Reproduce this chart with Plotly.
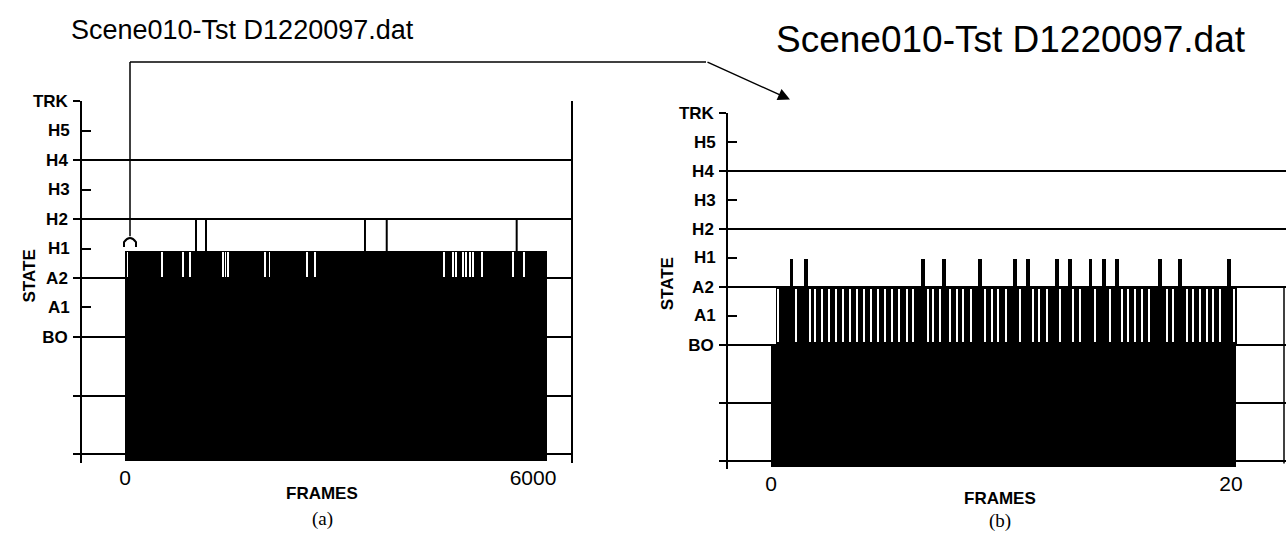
import plotly.graph_objects as go

W, H = 1286, 540


def px(x):
    return x / W


def py(y):
    return 1 - y / H


# ---------------- data ----------------
grid_states = [9, 7, 5, 3, 1, -1, -3]
grid_labels = ["TRK", "H4", "H2", "A2", "BO", "", ""]
minor_states = [8, 6, 4, 2]
minor_labels = ["H5", "H3", "H1", "A1"]

# panel (a): 0..6000 frames
a_block = [0, 6206]           # frames covered by the dense oscillation
a_block_top = 3.9
a_block_bottom = -3.25
a_gap_frames = [37, 544, 853, 956, 1441, 1478, 1515, 2059, 2125, 2676, 2794,
                4691, 4819, 4868, 4971, 5015, 5074, 5118, 5246, 5710, 5872]
a_h2_pulse_start = [1044, 3529, 5760]
a_h2_pulse_end = [1191, 3849, 5760]
a_xticks = [0, 6000]

# panel (b): first 20 frames
b_block = [0, 20.22]
b_band = [0.2, 20.25]
b_block_bottom = -3.22
b_gap_frames = [0.32, 1.09, 1.70, 1.91, 2.20, 2.52, 2.83, 3.14, 3.44, 3.75, 4.04,
                4.35, 4.67, 4.96, 5.27, 5.58, 5.90, 6.19, 6.84, 7.06, 7.35, 7.78,
                8.07, 8.36, 8.68, 9.30, 9.60, 9.88, 10.22, 10.83, 11.40, 11.67,
                11.99, 12.57, 13.14, 13.44, 14.09, 14.74, 15.25, 15.54, 15.83,
                16.12, 16.45, 17.20, 17.49, 18.07, 18.36, 18.65, 18.94, 19.23,
                19.52, 20.13]
b_spike_frames = [0.89, 1.51, 6.62, 7.54, 9.09, 10.60, 11.17, 12.42, 12.99,
                  13.89, 14.48, 15.06, 16.93, 17.80, 19.93]
b_spike_top = 3.95
b_xticks = [0, 20]

title_text = "Scene010-Tst D1220097.dat"

# ---------------- geometry ----------------
a_px0, a_px6000 = 125, 533
a_scale = (a_px6000 - a_px0) / 6000.0
a_xrange = [(82 - a_px0) / a_scale, (571 - a_px0) / a_scale]
b_px0, b_px20 = 771, 1231
b_scale = (b_px20 - b_px0) / 20.0
b_xrange = [(728 - b_px0) / b_scale, (1286 - b_px0) / b_scale]

fig = go.Figure()

# ---- panel (a) traces ----
fig.add_trace(go.Bar(
    x=[(a_block[0] + a_block[1]) / 2], y=[a_block_top - a_block_bottom],
    base=[a_block_bottom], width=[a_block[1] - a_block[0]],
    marker=dict(color="black", line=dict(width=0)),
    xaxis="x", yaxis="y", showlegend=False, hoverinfo="skip"))
fig.add_trace(go.Bar(
    x=a_gap_frames, y=[0.85] * len(a_gap_frames), base=[3.02] * len(a_gap_frames),
    width=[14] * len(a_gap_frames),
    marker=dict(color="white", line=dict(width=0)),
    xaxis="x", yaxis="y", showlegend=False, hoverinfo="skip"))
pulse_x, pulse_y = [], []
for s, e in zip(a_h2_pulse_start, a_h2_pulse_end):
    pulse_x += [s, s, e, e, None]
    pulse_y += [a_block_top, 5, 5, a_block_top, None]
fig.add_trace(go.Scatter(
    x=pulse_x, y=pulse_y, mode="lines", line=dict(color="black", width=2),
    xaxis="x", yaxis="y", showlegend=False, hoverinfo="skip"))

# ---- panel (b) traces ----
fig.add_trace(go.Bar(
    x=[(b_block[0] + b_block[1]) / 2], y=[1 - b_block_bottom],
    base=[b_block_bottom], width=[b_block[1] - b_block[0]],
    marker=dict(color="black", line=dict(width=0)),
    xaxis="x2", yaxis="y2", showlegend=False, hoverinfo="skip"))
fig.add_trace(go.Bar(
    x=[(b_band[0] + b_band[1]) / 2], y=[2.0], base=[1.0],
    width=[b_band[1] - b_band[0]],
    marker=dict(color="black", line=dict(width=0)),
    xaxis="x2", yaxis="y2", showlegend=False, hoverinfo="skip"))
fig.add_trace(go.Bar(
    x=b_gap_frames, y=[1.82] * len(b_gap_frames), base=[1.1] * len(b_gap_frames),
    width=[0.09] * len(b_gap_frames),
    marker=dict(color="white", line=dict(width=0)),
    xaxis="x2", yaxis="y2", showlegend=False, hoverinfo="skip"))
fig.add_trace(go.Bar(
    x=b_spike_frames, y=[b_spike_top - 2.9] * len(b_spike_frames),
    base=[2.9] * len(b_spike_frames), width=[0.17] * len(b_spike_frames),
    marker=dict(color="black", line=dict(width=0)),
    xaxis="x2", yaxis="y2", showlegend=False, hoverinfo="skip"))

label_font = dict(family="Liberation Sans", size=17, color="black", weight="bold")

yax_common = dict(
    range=[-3.3, 9], tickmode="array", tickvals=grid_states, ticktext=grid_labels,
    ticks="outside", ticklen=7, tickwidth=1.5, tickcolor="black",
    showgrid=True, gridcolor="black", gridwidth=1.5, zeroline=False,
    showline=True, linecolor="black", linewidth=1.5,
    tickfont=label_font, ticklabelstandoff=2,
    minor=dict(tickmode="array", tickvals=minor_states, ticks="inside",
               ticklen=9, tickwidth=1.5, tickcolor="black", showgrid=False),
)
xax_common = dict(
    showgrid=False, zeroline=False, showline=False, ticks="",
    tickmode="array", tickfont=dict(family="Liberation Sans", size=21, color="black"),
)

# y domains (pixel rows of the 9 and -3.3 levels)
a_top, a_bot = 94, 462
b_top, b_bot = 106, 468

fig.update_layout(
    width=W, height=H, margin=dict(l=0, r=0, t=0, b=0),
    paper_bgcolor="white", plot_bgcolor="white", barmode="overlay", bargap=0,
    xaxis=dict(domain=[px(82), px(571)], range=a_xrange, anchor="y",
               tickvals=a_xticks, ticktext=[str(v) for v in a_xticks], **xax_common),
    yaxis=dict(domain=[py(a_bot), py(a_top)], anchor="x", mirror=True, **yax_common),
    xaxis2=dict(domain=[px(728), 1.0], range=b_xrange, anchor="y2",
                tickvals=b_xticks, ticktext=[str(v) for v in b_xticks], **xax_common),
    yaxis2=dict(domain=[py(b_bot), py(b_top)], anchor="x2", **yax_common),
)


def note(x, y, text, font, **kw):
    d = dict(x=px(x), y=py(y), xref="paper", yref="paper", text=text,
             showarrow=False, xanchor="center", yanchor="middle", font=font)
    d.update(kw)
    return d


annotations = []
# even-state labels (minor ticks)
for axis_px, yref in [(82, "y"), (728, "y2")]:
    for v, t in zip(minor_states, minor_labels):
        annotations.append(dict(x=px(axis_px - 10), xref="paper", y=v, yref=yref,
                                text=t, showarrow=False, xanchor="right",
                                yanchor="middle", font=label_font))
annotations.append(note(29, 272, "STATE", label_font, textangle=-90))
annotations.append(note(667, 280, "STATE", label_font, textangle=-90))
annotations.append(note(322, 493, "FRAMES", label_font))
annotations.append(note(1000, 498, "FRAMES", label_font))
serif = dict(family="Liberation Serif", size=19, color="black")
annotations.append(note(322, 519, "(a)", serif))
annotations.append(note(1000, 521, "(b)", serif))
annotations.append(note(242, 21, title_text, dict(family="Liberation Sans", size=27, color="black")))
annotations.append(note(1011, 31, title_text, dict(family="Liberation Sans", size=37, color="black")))
# zoom arrow
annotations.append(dict(x=px(790), y=py(92), xref="paper", yref="paper", text="",
                        showarrow=True, ax=-84, ay=-38, axref="pixel", ayref="pixel",
                        arrowhead=2, arrowsize=1.6, arrowwidth=1.5, arrowcolor="black"))
fig.update_layout(annotations=annotations)

shapes = [
    dict(type="line", xref="paper", yref="paper", x0=px(130), y0=py(231), x1=px(130), y1=py(54),
         line=dict(color="black", width=1.5)),
    dict(type="line", xref="paper", yref="paper", x0=px(130), y0=py(54), x1=px(706), y1=py(54),
         line=dict(color="black", width=1.5)),
    dict(type="path", xref="paper", yref="paper",
         path=f"M {px(124)},{py(242)} L {px(124)},{py(237)} Q {px(130)},{py(229)} {px(136)},{py(237)} L {px(136)},{py(242)}",
         line=dict(color="black", width=2)),
    dict(type="line", xref="x2", yref="y2", x0=(1284 - b_px0) / b_scale, x1=(1284 - b_px0) / b_scale,
         y0=-3.1, y1=3, line=dict(color="black", width=1.5)),
]
fig.update_layout(shapes=shapes)

fig.write_html("out.html", config={"displayModeBar": False},
               post_script="document.body.style.margin='0';")
